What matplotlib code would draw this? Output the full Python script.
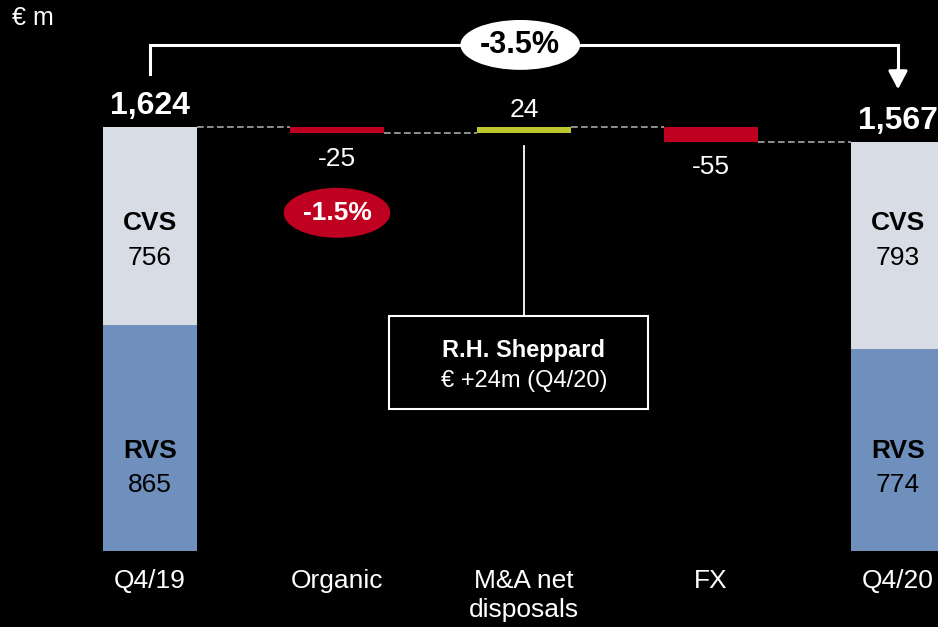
import matplotlib.pyplot as plt
from matplotlib.patches import Ellipse, Rectangle

# --- chart values ---
categories = ["Q4/19", "Organic", "M&A net\ndisposals", "FX", "Q4/20"]
start_total = 1624
end_total = 1567
changes = [-25, 24, -55]
cvs_values = [756, 793]
rvs_values = [865, 774]
total_change_pct = "-3.5%"
organic_pct = "-1.5%"
callout_title = "R.H. Sheppard"
callout_text = "€ +24m (Q4/20)"

CVS_COLOR = "#D8DCE4"
RVS_COLOR = "#6F8FBC"
NEG_COLOR = "#C00020"
POS_COLOR = "#BCC82E"
LINE_GRAY = "#A6A6A6"
FONT = "Liberation Sans"
FS = 19

plt.rcParams["font.family"] = [FONT, "DejaVu Sans"]

fig = plt.figure(figsize=(9.38, 6.27), dpi=100, facecolor="black")
ax = fig.add_axes([0, 0.1212, 1, 0.8788], facecolor="black")
ax.set_xlim(-0.802, 4.214)
ax.set_ylim(0, 2110)
for s in ax.spines.values():
    s.set_visible(False)
ax.set_yticks([])
ax.set_xticks(range(len(categories)))
ax.set_xticklabels(categories, color="white", fontsize=FS, linespacing=1.25)
ax.tick_params(axis="x", length=0, pad=13)

width = 0.5
ends = [0, len(categories) - 1]
totals = [start_total, end_total]

# --- stacked total bars ---
for i, x in enumerate(ends):
    ax.bar(x, rvs_values[i], width=width, color=RVS_COLOR)
    ax.bar(x, totals[i] - rvs_values[i], bottom=rvs_values[i], width=width, color=CVS_COLOR)
    ax.annotate(f"{totals[i]:,}", (x, totals[i]), xytext=(0, 4), textcoords="offset points",
                ha="center", va="bottom", color="white", fontsize=23, fontweight="bold")
    ax.text(x, 1256, "CVS", ha="center", va="center", fontsize=FS, fontweight="bold", color="black")
    ax.text(x, 1122, str(cvs_values[i]), ha="center", va="center", fontsize=FS, color="black")
    ax.text(x, 383, "RVS", ha="center", va="center", fontsize=FS, fontweight="bold", color="black")
    ax.text(x, 252, str(rvs_values[i]), ha="center", va="center", fontsize=FS, color="black")

# --- floating change bars ---
level = start_total
levels = [level]
for j, ch in enumerate(changes):
    x = j + 1
    new = level + ch
    ax.bar(x, abs(ch), bottom=min(level, new), width=width,
           color=POS_COLOR if ch > 0 else NEG_COLOR)
    if ch > 0:
        ax.annotate(f"{ch}", (x, new), xytext=(0, 4), textcoords="offset points",
                    ha="center", va="bottom", color="white", fontsize=FS)
    else:
        ax.annotate(f"{ch}", (x, new), xytext=(0, -10), textcoords="offset points",
                    ha="center", va="top", color="white", fontsize=FS)
    level = new
    levels.append(level)

# dashed connectors between bars
for k, lv in enumerate(levels):
    ax.plot([k + width / 2, k + 1 - width / 2], [lv, lv], color=LINE_GRAY,
            lw=1.2, ls=(0, (4, 2)))

# --- overall change bracket ---
yb = 1938
ax.plot([0, 0, 4, 4], [1827, yb, yb, 1840], color="white", lw=2.2, solid_joinstyle="miter")
ax.annotate("", xy=(4, 1768), xytext=(4, 1845),
            arrowprops=dict(arrowstyle="-|>,head_length=1.1,head_width=0.58",
                            color="white", lw=2.2, shrinkA=0, shrinkB=0))
ax.add_patch(Ellipse((1.98, yb), 0.64, 191, facecolor="white", edgecolor="none", zorder=3))
ax.text(1.98, yb, total_change_pct, ha="center", va="center", fontsize=22,
        fontweight="bold", color="black", zorder=4)

# organic percentage bubble
ax.add_patch(Ellipse((1, 1295), 0.57, 191, facecolor=NEG_COLOR, edgecolor="none", zorder=3))
ax.text(1, 1295, organic_pct, ha="center", va="center", fontsize=FS,
        fontweight="bold", color="white", zorder=4)

# --- callout for acquisition ---
ax.plot([2, 2], [900, 1551], color="white", lw=1.3)
ax.add_patch(Rectangle((1.278, 544), 1.385, 356, facecolor="black", edgecolor="white", lw=1.5))
ax.text(2, 766, callout_title, ha="center", va="center", fontsize=17, fontweight="bold", color="white")
ax.text(2, 652, callout_text, ha="center", va="center", fontsize=17, color="white")

fig.text(0.013, 0.971, "€ m", ha="left", va="center", fontsize=18, color="white")

fig.savefig("out.png", dpi=100, facecolor="black")
